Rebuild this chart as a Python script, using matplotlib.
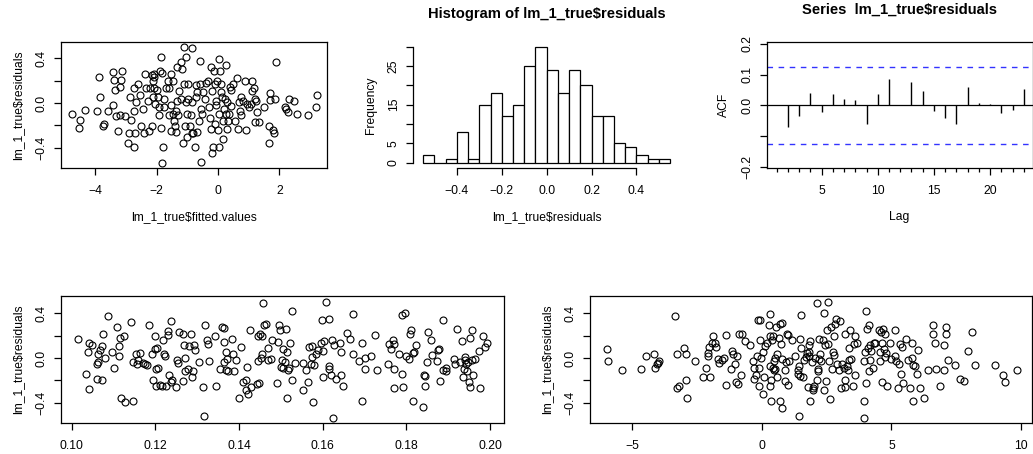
import numpy as np
import matplotlib
matplotlib.use("Agg")
import matplotlib.pyplot as plt
from matplotlib.ticker import FixedLocator, FixedFormatter

plt.rcParams["font.family"] = ["Liberation Sans", "DejaVu Sans"]

# panel 1: residuals vs fitted values
fitted_x = [-4.76, -4.49, -4.53, -4.32, -3.88, -3.95, -3.83, -3.75, -3.70, -3.57,
            -3.42, -3.40, -3.41, -3.36, -3.32, -3.26, -3.18, -3.16, -3.14, -3.19,
            -3.03, -2.85, -2.83, -2.89, -2.94, -2.72, -2.72, -2.70, -2.72, -2.67,
            -2.59, -2.53, -2.51, -2.45, -2.42, -2.38, -2.35, -2.29, -2.24, -2.21,
            -2.15, -2.13, -2.11, -2.08, -2.08, -2.05, -2.15, -2.08, -1.97, -1.94,
            -1.91, -1.89, -1.91, -1.84, -1.81, -1.86, -1.78, -1.81, -1.77, -1.75,
            -1.68, -1.64, -1.61, -1.58, -1.54, -1.54, -1.54, -1.48, -1.46, -1.43,
            -1.39, -1.37, -1.37, -1.34, -1.32, -1.30, -1.26, -1.21, -1.19, -1.16,
            -1.15, -1.12, -1.10, -1.07, -1.04, -1.03, -1.00, -1.00, -0.97, -0.96,
            -0.91, -0.89, -0.86, -0.85, -0.83, -0.80, -0.75, -0.72, -0.72, -0.69,
            -0.67, -0.62, -0.58, -0.58, -0.54, -0.54, -0.51, -0.49, -0.43, -0.40,
            -0.33, -0.29, -0.27, -0.24, -0.22, -0.21, -0.18, -0.16, -0.13, -0.11,
            -0.09, -0.08, -0.05, -0.02, 0.00, 0.03, 0.03, 0.05, 0.06, 0.09,
            0.11, 0.13, 0.15, 0.17, 0.19, 0.22, 0.25, 0.27, 0.28, 0.30,
            0.34, 0.36, 0.39, 0.41, 0.44, 0.50, 0.57, 0.63, 0.66, 0.68,
            0.71, 0.74, 0.76, 0.82, 0.88, 0.90, 0.95, 1.01, 1.06, 1.11,
            1.11, 1.17, 1.19, 1.22, 1.25, 1.28, 1.33, 1.49, 1.65, 1.65,
            1.70, 1.70, 1.79, 1.83, 1.90, 1.87, 2.19, 2.23, 2.27, 2.30,
            2.46, 2.57, 2.92, 3.20, 3.24]
fitted_res = [-0.10, -0.15, -0.22, -0.06, 0.23, -0.07, 0.05, -0.21, -0.19, -0.07,
              0.28, 0.21, -0.02, 0.12, -0.12, -0.25, 0.14, 0.21, 0.29, -0.11,
              -0.12, 0.05, -0.15, -0.27, -0.36, -0.07, 0.13, -0.27, -0.39, 0.01,
              0.17, 0.07, -0.21, -0.05, -0.27, 0.26, 0.13, 0.02, -0.25, 0.13,
              0.25, 0.05, 0.20, 0.23, 0.13, -0.01, -0.21, 0.26, 0.12, 0.05,
              -0.04, 0.29, -0.11, 0.41, 0.27, -0.22, -0.39, -0.54, 0.04, -0.04,
              0.13, 0.20, -0.11, 0.13, 0.26, -0.02, -0.25, 0.20, -0.10, -0.16,
              -0.21, -0.26, -0.07, 0.32, 0.02, -0.11, 0.11, 0.37, 0.04, 0.30,
              -0.36, 0.17, 0.50, -0.21, 0.01, 0.41, -0.10, -0.30, 0.04, 0.17,
              -0.21, -0.11, 0.49, -0.27, 0.01, -0.27, -0.39, 0.16, 0.05, 0.10,
              -0.26, -0.16, 0.38, 0.17, -0.53, -0.05, -0.10, 0.10, 0.04, 0.18,
              0.20, -0.04, -0.13, -0.23, 0.32, -0.45, 0.11, -0.39, 0.29, -0.19,
              0.17, -0.02, 0.02, 0.20, -0.24, 0.39, -0.39, -0.10, 0.29, 0.17,
              0.10, 0.05, -0.32, -0.16, -0.05, 0.04, 0.34, -0.10, -0.23, 0.01,
              -0.16, -0.10, 0.14, -0.03, 0.12, 0.17, -0.16, 0.22, -0.23, 0.01,
              -0.07, 0.05, -0.11, 0.02, 0.20, -0.24, -0.01, -0.04, -0.01, 0.20,
              0.11, 0.13, 0.04, -0.17, 0.02, -0.08, -0.17, -0.04, -0.21, -0.36,
              0.09, 0.03, -0.24, -0.27, 0.37, 0.04, -0.04, -0.05, -0.08, 0.04,
              0.02, -0.10, -0.11, -0.04, 0.07]

# histogram of residuals
hist_breaks = [-0.55, -0.50, -0.45, -0.40, -0.35, -0.30, -0.25, -0.20, -0.15, -0.10, -0.05,
               0.00, 0.05, 0.10, 0.15, 0.20, 0.25, 0.30, 0.35, 0.40, 0.45, 0.50, 0.55]
hist_counts = [2, 0, 1, 8, 1, 15, 18, 12, 15, 25, 30, 24, 18, 24, 20, 12, 12, 5, 4, 2, 1, 1]

# acf of residuals
acf_lags = list(range(1, 24))
acf_vals = [0.003, -0.070, -0.034, 0.042, -0.021, 0.038, 0.020, 0.017, -0.061, 0.037,
            0.085, 0.002, 0.077, 0.048, -0.018, -0.041, -0.061, 0.060, 0.008, 0.006,
            -0.025, -0.014, 0.053]
acf_ci = 0.124

# panel 4: residuals vs x in [0.1, 0.2]
x2 = [0.1014, 0.1034, 0.1038, 0.1041, 0.1042, 0.1048, 0.1060, 0.1062, 0.1060, 0.1064,
      0.1068, 0.1072, 0.1073, 0.1076, 0.1080, 0.1086, 0.1096, 0.1100, 0.1109, 0.1112,
      0.1113, 0.1116, 0.1117, 0.1124, 0.1127, 0.1142, 0.1146, 0.1146, 0.1154, 0.1155,
      0.1159, 0.1163, 0.1170, 0.1175, 0.1179, 0.1185, 0.1193, 0.1194, 0.1200, 0.1200,
      0.1202, 0.1202, 0.1203, 0.1207, 0.1210, 0.1215, 0.1219, 0.1221, 0.1222, 0.1225,
      0.1231, 0.1231, 0.1233, 0.1237, 0.1237, 0.1239, 0.1249, 0.1251, 0.1255, 0.1257,
      0.1265, 0.1267, 0.1269, 0.1271, 0.1272, 0.1277, 0.1280, 0.1285, 0.1287, 0.1291,
      0.1292, 0.1295, 0.1304, 0.1315, 0.1316, 0.1319, 0.1323, 0.1325, 0.1328, 0.1343,
      0.1344, 0.1355, 0.1359, 0.1363, 0.1363, 0.1364, 0.1368, 0.1369, 0.1371, 0.1373,
      0.1384, 0.1386, 0.1389, 0.1393, 0.1400, 0.1404, 0.1409, 0.1416, 0.1418, 0.1417,
      0.1422, 0.1426, 0.1428, 0.1442, 0.1445, 0.1446, 0.1447, 0.1449, 0.1452, 0.1454,
      0.1456, 0.1458, 0.1460, 0.1464, 0.1469, 0.1470, 0.1477, 0.1478, 0.1490, 0.1494,
      0.1495, 0.1498, 0.1500, 0.1502, 0.1504, 0.1506, 0.1510, 0.1512, 0.1514, 0.1515,
      0.1518, 0.1520, 0.1522, 0.1526, 0.1527, 0.1534, 0.1552, 0.1554, 0.1559, 0.1566,
      0.1568, 0.1571, 0.1574, 0.1575, 0.1578, 0.1580, 0.1583, 0.1590, 0.1595, 0.1598,
      0.1600, 0.1600, 0.1602, 0.1608, 0.1614, 0.1615, 0.1616, 0.1620, 0.1623, 0.1625,
      0.1628, 0.1631, 0.1641, 0.1643, 0.1645, 0.1648, 0.1657, 0.1665, 0.1673, 0.1673,
      0.1688, 0.1693, 0.1693, 0.1700, 0.1702, 0.1715, 0.1725, 0.1731, 0.1755, 0.1759,
      0.1763, 0.1767, 0.1771, 0.1771, 0.1771, 0.1783, 0.1789, 0.1790, 0.1791, 0.1797,
      0.1800, 0.1807, 0.1809, 0.1811, 0.1815, 0.1817, 0.1818, 0.1822, 0.1840, 0.1842,
      0.1845, 0.1845, 0.1849, 0.1851, 0.1858, 0.1861, 0.1873, 0.1876, 0.1879, 0.1880,
      0.1887, 0.1888, 0.1894, 0.1896, 0.1913, 0.1916, 0.1922, 0.1928, 0.1934, 0.1936,
      0.1938, 0.1940, 0.1941, 0.1943, 0.1944, 0.1948, 0.1950, 0.1952, 0.1953, 0.1957,
      0.1958, 0.1960, 0.1963, 0.1973, 0.1977, 0.1983, 0.1987, 0.1992]
x2_res = [0.173, -0.140, 0.054, -0.281, 0.137, 0.119, -0.057, 0.033, -0.188, -0.039,
          0.075, 0.104, -0.200, 0.212, -0.003, 0.376, 0.054, -0.087, 0.278, 0.018,
          0.110, 0.179, -0.361, 0.197, -0.391, 0.319, -0.388, -0.036, 0.033, -0.057,
          -0.021, 0.045, -0.042, -0.057, -0.066, 0.293, 0.033, -0.194, 0.197, 0.084,
          -0.101, -0.254, 0.093, -0.087, -0.239, -0.248, 0.164, 0.039, 0.018, -0.254,
          0.239, 0.203, -0.152, 0.331, -0.218, -0.200, -0.260, -0.021, -0.045, 0.233,
          -0.209, 0.218, 0.113, -0.116, 0.003, -0.096, 0.104, 0.212, -0.170, -0.116,
          0.113, 0.069, -0.036, -0.260, -0.522, 0.293, 0.158, 0.128, -0.027, 0.194,
          -0.254, -0.096, 0.278, 0.269, -0.036, 0.143, 0.054, -0.104, -0.012, -0.119,
          0.167, 0.033, -0.116, -0.021, -0.355, 0.098, -0.218, -0.200, -0.081, -0.284,
          -0.319, 0.254, -0.260, -0.236, -0.027, 0.194, -0.221, 0.218, 0.003, 0.033,
          0.197, 0.493, 0.293, 0.307, 0.090, -0.015, -0.006, 0.158, -0.224, 0.143,
          0.293, 0.254, -0.081, -0.021, 0.084, -0.087, -0.036, 0.257, 0.054, -0.358,
          -0.104, -0.087, 0.134, 0.418, -0.200, -0.042, -0.290, -0.042, -0.104, -0.215,
          0.098, -0.057, 0.009, 0.107, -0.391, -0.060, 0.039, 0.069, 0.137, 0.337,
          0.063, -0.170, 0.149, 0.501, 0.352, -0.075, -0.096, -0.149, 0.158, -0.537,
          0.113, -0.185, 0.134, 0.054, -0.155, -0.254, 0.224, 0.173, 0.391, 0.033,
          -0.030, 0.134, -0.388, -0.101, 0.000, 0.018, 0.209, -0.110, -0.057, 0.128,
          0.084, 0.158, 0.122, -0.101, -0.269, 0.039, -0.146, 0.382, -0.260, 0.406,
          0.015, -0.012, 0.212, 0.254, 0.048, -0.385, 0.054, 0.113, -0.439, -0.155,
          -0.164, -0.254, -0.036, 0.233, 0.158, 0.030, -0.030, 0.069, 0.084, -0.209,
          0.343, -0.110, -0.087, -0.116, -0.012, -0.057, 0.263, -0.036, 0.152, -0.170,
          -0.096, -0.021, 0.009, -0.051, -0.116, -0.036, -0.215, -0.260, 0.182, -0.021,
          0.254, -0.155, -0.006, 0.060, -0.266, 0.194, 0.098, 0.134]

# panel 5: residuals vs x in [-6, 10]
x3 = [-5.98, -5.92, -5.41, -4.68, -4.47, -4.16, -4.14, -4.05, -3.99, -3.95,
      -3.35, -3.26, -3.26, -3.19, -2.99, -2.93, -2.93, -2.88, -2.57, -2.28,
      -2.16, -2.08, -2.06, -2.03, -2.00, -1.93, -1.87, -1.80, -1.76, -1.70,
      -1.67, -1.52, -1.48, -1.39, -1.39, -1.20, -1.16, -1.13, -1.03, -1.00,
      -0.97, -0.93, -0.90, -0.80, -0.77, -0.67, -0.45, -0.35, -0.32, -0.30,
      -0.23, -0.19, -0.15, -0.13, -0.10, -0.09, -0.09, -0.04, 0.06, 0.06,
      0.10, 0.13, 0.19, 0.26, 0.30, 0.32, 0.32, 0.32, 0.35, 0.36,
      0.39, 0.41, 0.42, 0.45, 0.48, 0.49, 0.51, 0.54, 0.58, 0.60,
      0.67, 0.71, 0.71, 0.73, 0.77, 0.77, 0.77, 0.88, 0.90, 0.94,
      0.97, 1.00, 1.00, 1.03, 1.16, 1.29, 1.38, 1.39, 1.42, 1.44,
      1.48, 1.48, 1.51, 1.52, 1.57, 1.61, 1.70, 1.74, 1.78, 1.80,
      1.80, 1.83, 1.84, 1.87, 1.93, 1.97, 1.99, 2.02, 2.06, 2.12,
      2.12, 2.15, 2.16, 2.19, 2.21, 2.25, 2.29, 2.34, 2.38, 2.41,
      2.42, 2.47, 2.51, 2.54, 2.57, 2.60, 2.64, 2.68, 2.70, 2.74,
      2.77, 2.79, 2.83, 2.87, 2.90, 2.96, 3.02, 3.05, 3.09, 3.15,
      3.19, 3.22, 3.22, 3.28, 3.32, 3.35, 3.37, 3.41, 3.45, 3.50,
      3.54, 3.58, 3.60, 3.67, 3.93, 3.93, 3.95, 3.99, 4.02, 4.03,
      4.05, 4.08, 4.12, 4.14, 4.18, 4.18, 4.22, 4.27, 4.31, 4.35,
      4.50, 4.54, 4.57, 4.59, 4.63, 4.63, 4.67, 4.70, 4.74, 4.76,
      4.80, 4.83, 4.95, 4.99, 5.12, 5.15, 5.19, 5.24, 5.30, 5.34,
      5.37, 5.41, 5.43, 5.56, 5.64, 5.73, 5.79, 5.79, 5.82, 5.83,
      5.92, 5.98, 6.01, 6.09, 6.24, 6.40, 6.59, 6.60, 6.67, 6.73,
      6.89, 7.01, 7.04, 7.12, 7.12, 7.18, 7.44, 7.66, 7.79, 7.95,
      8.11, 8.21, 9.01, 9.29, 9.36, 9.83]
x3_res = [0.078, -0.030, -0.110, -0.101, 0.018, 0.039, -0.087, -0.057, -0.042, -0.030,
          0.373, 0.039, -0.266, -0.254, 0.090, 0.033, -0.200, -0.355, -0.030, -0.170,
          -0.087, 0.045, 0.015, 0.098, -0.170, 0.134, 0.197, 0.134, 0.098, -0.012,
          -0.045, -0.021, 0.000, 0.209, -0.245, -0.096, 0.060, 0.033, -0.057, -0.215,
          0.015, -0.236, 0.218, -0.155, 0.218, 0.152, 0.113, -0.030, -0.087, -0.191,
          -0.155, 0.015, 0.337, -0.090, -0.254, 0.164, 0.337, 0.003, -0.325, 0.054,
          -0.170, 0.107, 0.134, 0.299, -0.075, 0.397, -0.254, 0.197, -0.194, -0.385,
          0.158, 0.197, -0.087, -0.030, -0.110, 0.000, -0.096, 0.278, 0.033, -0.170,
          0.179, 0.307, -0.388, 0.128, 0.313, -0.006, -0.445, -0.209, -0.110, -0.036,
          0.212, 0.203, -0.245, -0.027, 0.158, 0.015, -0.110, -0.146, -0.522, -0.075,
          -0.161, 0.173, 0.382, 0.093, -0.170, -0.021, 0.009, 0.045, -0.260, 0.113,
          0.054, 0.018, -0.388, 0.152, -0.036, -0.269, -0.290, -0.254, 0.000, 0.493,
          -0.200, -0.116, -0.096, 0.173, -0.012, 0.033, -0.030, 0.164, 0.406, -0.290,
          0.113, -0.209, 0.254, 0.501, 0.122, -0.030, -0.364, 0.278, -0.096, 0.054,
          0.024, 0.197, 0.307, 0.352, -0.057, -0.104, 0.331, -0.266, -0.051, -0.087,
          0.212, -0.200, -0.260, -0.075, -0.104, -0.021, 0.093, 0.254, -0.012, -0.254,
          0.122, 0.194, -0.155, 0.134, -0.030, -0.385, -0.537, 0.054, 0.418, -0.224,
          0.263, 0.093, -0.116, 0.299, 0.119, -0.021, 0.060, -0.087, 0.134, 0.134,
          0.254, 0.054, -0.030, 0.233, -0.215, 0.134, 0.263, 0.084, 0.218, 0.009,
          0.045, -0.254, 0.134, -0.006, 0.254, 0.015, -0.030, -0.266, -0.057, 0.128,
          -0.140, 0.098, -0.221, 0.167, -0.015, -0.266, 0.134, 0.003, -0.388, -0.060,
          -0.075, -0.146, 0.069, -0.266, -0.355, -0.110, 0.299, 0.212, 0.137, -0.101,
          -0.254, -0.110, 0.119, 0.278, 0.212, -0.015, -0.066, -0.185, -0.209, 0.060,
          0.233, -0.066, -0.066, -0.149, -0.215, -0.104]

W, H = 1033, 454
FS = 8.7
TICK_LEN = 4.7


def make_ax(left, right, top, bottom):
    return fig.add_axes([left / W, (H - bottom) / H, (right - left) / W, (bottom - top) / H])


def style_axis(ax, box=True):
    for s in ax.spines.values():
        s.set_linewidth(0.9)
        s.set_color("black")
        s.set_visible(box)
    ax.tick_params(axis="both", which="major", direction="out", length=TICK_LEN,
                   width=0.9, labelsize=FS, colors="black")
    ax.tick_params(axis="x", pad=7.6)
    ax.tick_params(axis="y", pad=5.0, labelrotation=90)
    for lab in ax.get_yticklabels():
        lab.set_va("center")


def set_ticks(ax, axis, ticks, labels):
    loc = FixedLocator(ticks)
    fmt = FixedFormatter(labels)
    if axis == "x":
        ax.xaxis.set_major_locator(loc)
        ax.xaxis.set_major_formatter(fmt)
    else:
        ax.yaxis.set_major_locator(loc)
        ax.yaxis.set_major_formatter(fmt)


def ylab(ax, text, width_px):
    ax.set_ylabel(text, fontsize=FS)
    ax.yaxis.set_label_coords(-36.5 / width_px, 0.5)


def xlab(ax, text, height_px):
    ax.set_xlabel(text, fontsize=FS)
    ax.xaxis.set_label_coords(0.5, -42.7 / height_px)


fig = plt.figure(figsize=(W / 100, H / 100), dpi=100)
fig.patch.set_facecolor("white")

res_ticks = [-0.4, -0.2, 0.0, 0.2, 0.4]
res_labels = ["\u22120.4", "", "0.0", "", "0.4"]

# ---- panel 1
ax1 = make_ax(61, 326.7, 42.3, 168.3)
ax1.plot(fitted_x, fitted_res, "o", mfc="none", mec="black", ms=5.0, mew=0.8)
ax1.set_xlim(-5.11, 3.54)
ax1.set_ylim(-0.584, 0.543)
set_ticks(ax1, "x", [-4, -2, 0, 2], ["\u22124", "\u22122", "0", "2"])
set_ticks(ax1, "y", res_ticks, res_labels)
style_axis(ax1)
ylab(ax1, "lm_1_true$residuals", 265.7)
xlab(ax1, "lm_1_true$fitted.values", 126)

# ---- panel 2: histogram
ax2 = make_ax(413.4, 680, 42.3, 168.3)
ax2.bar(hist_breaks[:-1], hist_counts, width=np.diff(hist_breaks), align="edge",
        color="white", edgecolor="black", linewidth=0.9)
ax2.set_xlim(-0.594, 0.594)
ax2.set_ylim(-1.45, 31.1)
set_ticks(ax2, "x", [-0.4, -0.2, 0.0, 0.2, 0.4], ["\u22120.4", "\u22120.2", "0.0", "0.2", "0.4"])
set_ticks(ax2, "y", [0, 5, 10, 15, 20, 25, 30], ["0", "5", "", "15", "", "25", ""])
style_axis(ax2)
for s in ["top", "right"]:
    ax2.spines[s].set_visible(False)
ax2.spines["left"].set_visible(True)
ax2.spines["bottom"].set_visible(True)
ax2.spines["bottom"].set_bounds(-0.4, 0.4)
ax2.spines["left"].set_bounds(0, 30)
ax2.set_title("Histogram of lm_1_true$residuals", fontsize=10.6, fontweight="bold", pad=17.5)
ylab(ax2, "Frequency", 266.6)
xlab(ax2, "lm_1_true$residuals", 126)

# ---- panel 3: acf
ax3 = make_ax(766.7, 1032.5, 42.3, 168.3)
ax3.vlines(acf_lags, 0, acf_vals, color="black", linewidth=1.0)
ax3.axhline(0, color="black", linewidth=0.9)
for c in (acf_ci, -acf_ci):
    ax3.axhline(c, color="#3333ff", linewidth=1.0, linestyle=(0, (4, 4)))
ax3.set_xlim(0.111, 23.78)
ax3.set_ylim(-0.204, 0.205)
set_ticks(ax3, "x", [5, 10, 15, 20], ["5", "10", "15", "20"])
ax3.xaxis.set_minor_locator(FixedLocator(acf_lags))
set_ticks(ax3, "y", [-0.2, -0.1, 0.0, 0.1, 0.2], ["\u22120.2", "", "0.0", "0.1", "0.2"])
style_axis(ax3)
ax3.tick_params(axis="x", which="minor", direction="out", length=3.0, width=0.9)
ax3.set_title("Series  lm_1_true$residuals", fontsize=10.6, fontweight="bold", pad=20.5)
ylab(ax3, "ACF", 265.8)
xlab(ax3, "Lag", 126)

# ---- panel 4
ax4 = make_ax(61, 504, 295.7, 422.7)
ax4.plot(x2, x2_res, "o", mfc="none", mec="black", ms=5.0, mew=0.8)
ax4.set_xlim(0.09744, 0.20335)
ax4.set_ylim(-0.579, 0.5575)
set_ticks(ax4, "x", [0.10, 0.12, 0.14, 0.16, 0.18, 0.20],
          ["0.10", "0.12", "0.14", "0.16", "0.18", "0.20"])
set_ticks(ax4, "y", res_ticks, res_labels)
style_axis(ax4)
ylab(ax4, "lm_1_true$residuals", 443)

# ---- panel 5
ax5 = make_ax(590, 1032, 295.7, 422.7)
ax5.plot(x3, x3_res, "o", mfc="none", mec="black", ms=5.0, mew=0.8)
ax5.set_xlim(-6.63, 10.42)
ax5.set_ylim(-0.579, 0.5575)
set_ticks(ax5, "x", [-5, 0, 5, 10], ["\u22125", "0", "5", "10"])
set_ticks(ax5, "y", res_ticks, res_labels)
style_axis(ax5)
ylab(ax5, "lm_1_true$residuals", 442)

fig.savefig("out.png", dpi=100)
